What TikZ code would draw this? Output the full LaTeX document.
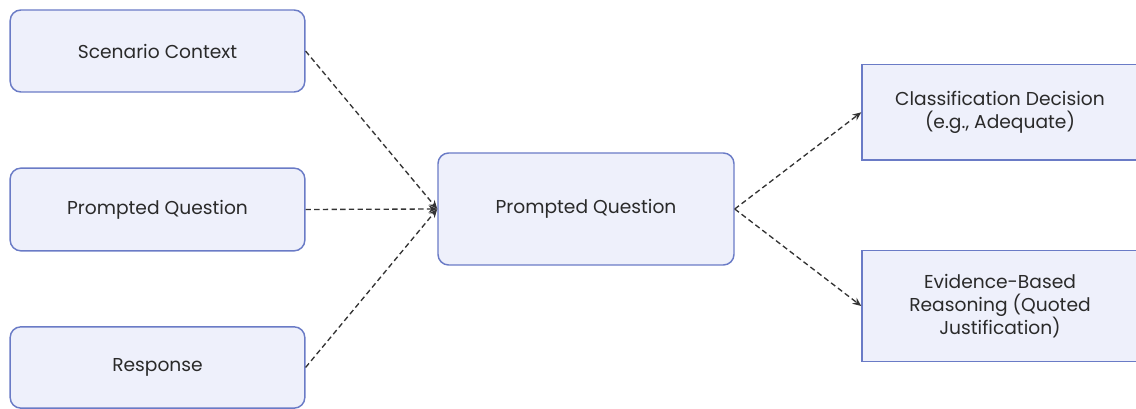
\documentclass[tikz,border=0pt]{standalone}
\usepackage{fontspec}
\setmainfont{Poppins}
\usetikzlibrary{arrows.meta}
\definecolor{boxfill}{HTML}{EEF0FB}
\definecolor{boxline}{HTML}{6A7BC6}
\definecolor{txt}{HTML}{2A2A2A}
\definecolor{edge}{HTML}{333333}
\begin{document}
\begin{tikzpicture}[x=0.75pt,y=-0.75pt,
  box/.style={draw=boxline,fill=boxfill,line width=1.1pt,text=txt,
    font=\fontsize{14}{17.3}\selectfont,align=center,inner sep=0pt},
  roundbox/.style={box,rounded corners=8pt},
  flow/.style={draw=edge,line width=1pt,dash pattern=on 4pt off 2.5pt,
    -{Stealth[length=6.5pt,width=5.5pt]}}]
\useasboundingbox (0,0) rectangle (1136,409);
% inputs
\node[roundbox,minimum width=221pt,minimum height=61.5pt] (ctx) at (157.5,51) {Scenario Context};
\node[roundbox,minimum width=221pt,minimum height=62pt] (pq) at (157.5,209.5) {Prompted Question};
\node[roundbox,minimum width=221pt,minimum height=61pt] (resp) at (157.5,367.5) {Response};
% evaluator
\node[roundbox,minimum width=222pt,minimum height=84pt] (mid) at (586,209) {Prompted Question};
% outputs
\node[box,minimum width=207pt,minimum height=71.5pt] (cls) at (1000,112.3) {Classification Decision\\(e.g., Adequate)};
\node[box,minimum width=207pt,minimum height=83pt] (evd) at (1000,306) {Evidence-Based\\Reasoning (Quoted\\Justification)};
% connectors
\draw[flow] (ctx.east) -- (mid.west);
\draw[flow] (pq.east) -- (mid.west);
\draw[flow] (resp.east) -- (mid.west);
\draw[flow] (mid.east) -- (cls.west);
\draw[flow] (mid.east) -- (evd.west);
\end{tikzpicture}
\end{document}
